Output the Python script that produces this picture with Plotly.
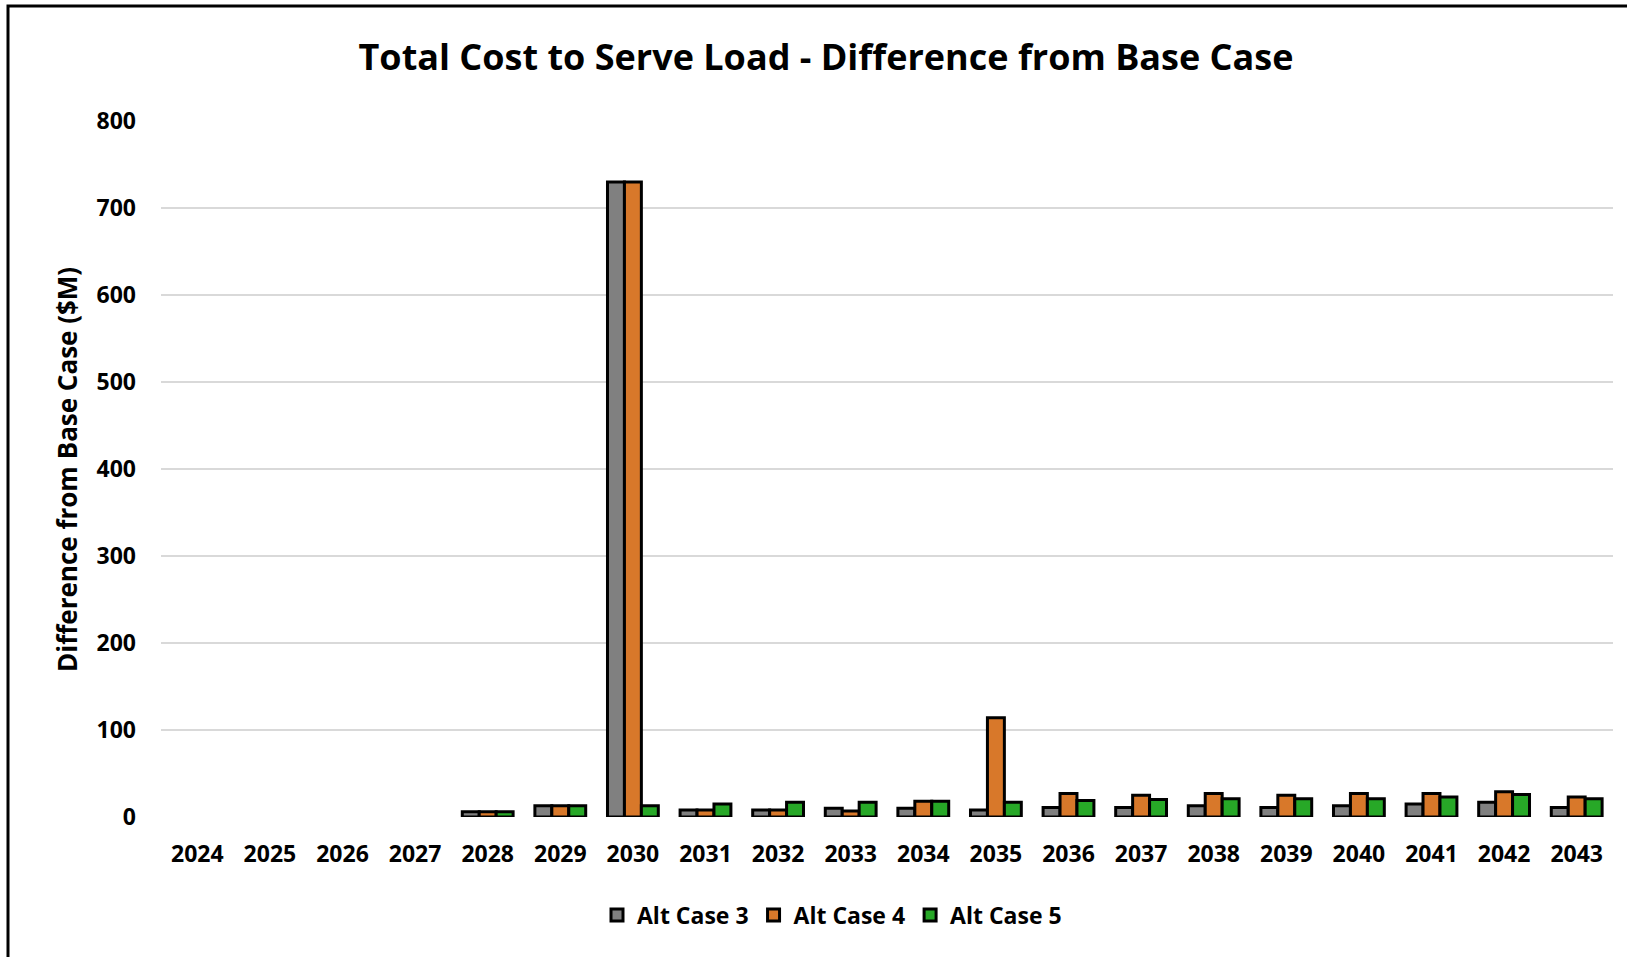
import plotly.graph_objects as go

years = [str(y) for y in range(2024, 2044)]
alt_case_3 = [None, None, None, None, 6, 13, 730, 8, 8, 10, 10, 8, 11, 11, 13, 11, 13, 15, 17, 11]
alt_case_4 = [None, None, None, None, 6, 13, 730, 8, 8, 7, 18, 114, 27, 25, 27, 25, 27, 27, 29, 23]
alt_case_5 = [None, None, None, None, 6, 13, 13, 15, 17, 17, 18, 17, 19, 20, 21, 21, 21, 23, 26, 21]
y_ticks = [0, 100, 200, 300, 400, 500, 600, 700, 800]

series = [
    ("Alt Case 3", alt_case_3, "#808080"),
    ("Alt Case 4", alt_case_4, "#D8782A"),
    ("Alt Case 5", alt_case_5, "#27A827"),
]

FONT = "Open Sans"
fig = go.Figure()
for name, vals, color in series:
    fig.add_trace(go.Bar(
        x=years, y=vals, name=name,
        marker=dict(color=color, line=dict(color="black", width=3)),
    ))

W, H = 1627, 957
L, R, T, B = 161, 1613, 121, 817

def px2x(px):
    return (px - L) / (R - L)

def px2y(py):
    return (B - py) / (B - T)

fig.update_layout(
    width=W, height=H,
    margin=dict(l=L, r=W - R, t=T, b=H - B),
    paper_bgcolor="white", plot_bgcolor="white",
    barmode="group", bargap=0.3, bargroupgap=0,
    font=dict(family=FONT, color="black"),
    title=dict(
        text="Total Cost to Serve Load - Difference from Base Case",
        font=dict(family=FONT, size=36, weight="bold", color="black"),
        x=826 / W, xref="container", xanchor="center",
        y=1 - 57 / H, yref="container", yanchor="middle",
    ),
    legend=dict(
        orientation="h", xref="paper", yref="paper",
        x=px2x(832), xanchor="center", y=px2y(915), yanchor="middle",
        font=dict(family=FONT, size=23, weight="bold"),
        itemwidth=30, traceorder="normal", tracegroupgap=0,
    ),
    showlegend=True,
)
fig.update_xaxes(
    type="category", showgrid=False, showline=False, zeroline=False,
    tickfont=dict(family=FONT, size=23, weight="bold", color="black"),
    ticklabelstandoff=21,
)
fig.update_yaxes(
    range=[0, 800], tickvals=y_ticks, showgrid=True, gridcolor="#D9D9D9",
    gridwidth=1.5, zeroline=False, showline=False,
    tickfont=dict(family=FONT, size=23, weight="bold", color="black"),
    ticklabelstandoff=24,
)
fig.add_annotation(
    text="Difference from Base Case ($M)", textangle=-90,
    xref="paper", yref="paper", x=px2x(67), y=px2y(470),
    xanchor="center", yanchor="middle", showarrow=False,
    font=dict(family=FONT, size=26, weight="bold", color="black"),
)
fig.add_shape(
    type="rect", xref="paper", yref="paper",
    x0=px2x(8), x1=px2x(1660), y0=px2y(6), y1=px2y(990),
    line=dict(color="black", width=3), fillcolor="rgba(0,0,0,0)", layer="above",
)
fig.write_html("out.html")
